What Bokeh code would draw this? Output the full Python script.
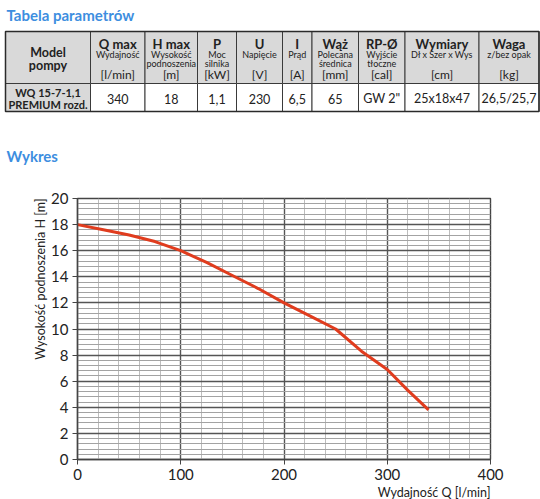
from bokeh.plotting import figure
from bokeh.models import Range1d, SingleIntervalTicker, Title
from bokeh.core.properties import value
from bokeh.embed import file_html
from bokeh.resources import INLINE

FONT = "Lato"
BLUE = "#3d8ee0"
INK = "#222222"

# ---- parameter table ----
headers = ["Q max", "H max", "P", "U", "I", "Wąż", "RP-Ø", "Wymiary", "Waga"]
subtitles = [["Wydajność"], ["Wysokość", "podnoszenia"], ["Moc", "silnika"],
             ["Napięcie"], ["Prąd"], ["Polecana", "średnica"], ["Wyjście", "tłoczne"],
             ["Dł x Szer x Wys"], ["z/bez opak"]]
units = ["[l/min]", "[m]", "[kW]", "[V]", "[A]", "[mm]", "[cal]", "[cm]", "[kg]"]
model_name = ["WQ 15-7-1,1", "PREMIUM rozd."]
row_values = ["340", "18", "1,1", "230", "6,5", "65", 'GW 2"', "25x18x47", "26,5/25,7"]

# ---- pump curve H(Q) ----
flow_q = [0, 25, 50, 75, 100, 125, 150, 175, 200, 225, 250, 275, 300, 320, 340]
head_h = [18.0, 17.6, 17.2, 16.7, 16.0, 15.1, 14.1, 13.1, 12.0, 11.0, 10.0, 8.3, 6.9, 5.3, 3.8]

# frame geometry of the chart (page pixels)
LEFT, TOP_B, FW, FH = 77, 198, 413, 261

p = figure(frame_width=FW, frame_height=FH, x_range=Range1d(0, 400), y_range=Range1d(0, 20),
           output_backend="svg", toolbar_location=None,
           min_border_left=LEFT, min_border_right=50, min_border_top=TOP_B, min_border_bottom=40)

# a page-pixel coordinate system for the table and headings drawn above the chart
p.extra_x_ranges = {"px": Range1d(LEFT, LEFT + FW)}
p.extra_y_ranges = {"px": Range1d(TOP_B + FH, TOP_B)}
PX = dict(x_range_name="px", y_range_name="px", level="overlay")

p.xaxis.ticker = SingleIntervalTicker(interval=100, num_minor_ticks=5)
p.yaxis.ticker = SingleIntervalTicker(interval=2, num_minor_ticks=5)

for g, minor in ((p.xgrid, "#bdbdbd"), (p.ygrid, "#a3a3a3")):
    g.grid_line_color = "#555555"
    g.grid_line_width = 1.4
    g.minor_grid_line_color = minor
    g.minor_grid_line_width = 1

for ax in (p.xaxis, p.yaxis):
    ax.axis_line_color = "#444444"
    ax.axis_line_width = 1.4
    ax.major_tick_line_color = "#444444"
    ax.major_tick_in = 0
    ax.major_tick_out = 5
    ax.minor_tick_line_color = None
    ax.major_label_text_font = FONT
    ax.major_label_text_font_size = "15px"
    ax.major_label_text_color = INK
    ax.major_label_standoff = 4

p.outline_line_color = "#444444"
p.outline_line_width = 1.4

p.line(flow_q, head_h, line_color="#e03c1e", line_width=3, line_join="round")

p.add_layout(Title(text="Wydajność Q [l/min]", align="right", standoff=0,
                   text_font=FONT, text_font_size="12.5px", text_font_style="normal",
                   text_color=INK), "below")
p.add_layout(Title(text="Wysokość podnoszenia H [m]", align="right", standoff=2,
                   text_font=FONT, text_font_size="12.5px", text_font_style="normal",
                   text_color=INK), "left")

# ---- table ----
edges = [5, 90, 144.5, 197, 236, 282, 311.5, 358, 404.5, 478.5, 538.5]
T_TOP, T_MID, T_BOT = 31, 83, 111

p.quad(left=edges[:-1], right=edges[1:], top=[T_TOP] * 10, bottom=[T_MID] * 10,
       fill_color="#d9d9d9", line_color="#3a3a3a", line_width=1, **PX)
p.quad(left=edges[:-1], right=edges[1:], top=[T_MID] * 10, bottom=[T_BOT] * 10,
       fill_color=["#d9d9d9"] + ["#ffffff"] * 9, line_color="#3a3a3a", line_width=1, **PX)
p.quad(left=[edges[0]], right=[edges[-1]], top=[T_TOP], bottom=[T_BOT],
       fill_color=None, line_color="#2a2a2a", line_width=1.5, **PX)

centers = [(a + b) / 2 for a, b in zip(edges[:-1], edges[1:])]
tkw = dict(text_align="center", text_baseline="middle", text_font=value(FONT),
           text_color=INK, **PX)

p.text(x=[centers[0]] * 2, y=[52, 64.5], text=["Model", "pompy"],
       text_font_size="12.5px", text_font_style="bold", **tkw)
p.text(x=centers[1:], y=[43] * 9, text=headers,
       text_font_size="13px", text_font_style="bold", **tkw)
sx, sy, st = [], [], []
for c, lines in zip(centers[1:], subtitles):
    for k, line in enumerate(lines):
        sx.append(c)
        sy.append(54 + 8.5 * k)
        st.append(line)
p.text(x=sx, y=sy, text=st, text_font_size="9px", **tkw)
p.text(x=centers[1:], y=[73.5] * 9, text=units, text_font_size="12px", **tkw)
p.text(x=[centers[0]] * 2, y=[92, 104], text=model_name,
       text_font_size="11px", text_font_style="bold", **tkw)
p.text(x=centers[1:], y=[98] * 9, text=row_values, text_font_size="12.5px", **tkw)

p.text(x=[6, 6], y=[14, 155], text=["Tabela parametrów", "Wykres"],
       text_align="left", text_baseline="middle", text_font=value(FONT),
       text_font_size="15px", text_font_style="bold", text_color=BLUE, **PX)

open("out.html", "w").write(file_html(p, INLINE))
